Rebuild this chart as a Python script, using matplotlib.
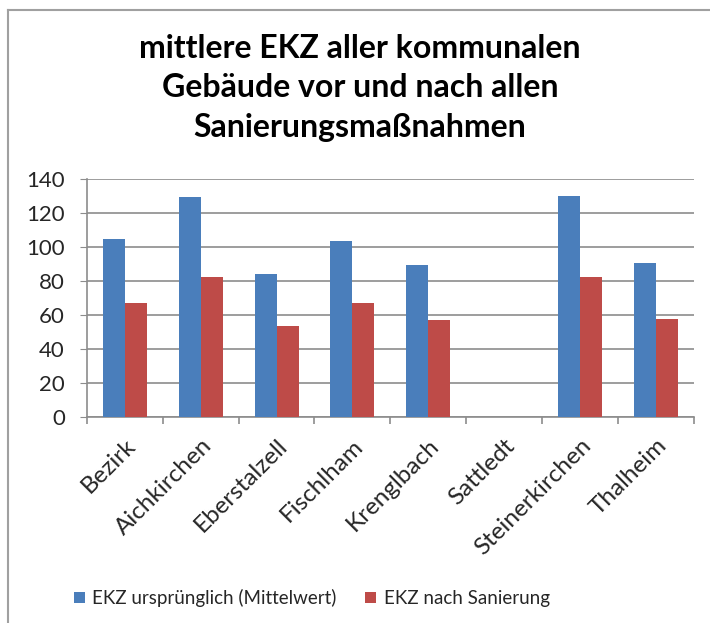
"""Mittlere EKZ kommunaler Gebäude vor und nach Sanierung."""
import matplotlib.pyplot as plt
import numpy as np
from matplotlib.lines import Line2D

plt.rcParams["font.family"] = ["Lato", "DejaVu Sans"]

gemeinden = ["Bezirk", "Aichkirchen", "Eberstalzell", "Fischlham", "Krenglbach",
             "Sattledt", "Steinerkirchen", "Thalheim"]
ekz_vorher = [104.5, 129.2, 83.9, 103.7, 89.4, 0, 130.0, 90.8]
ekz_nachher = [66.9, 82.5, 53.7, 67.0, 57.0, 0, 82.5, 57.8]
y_ticks = [0, 20, 40, 60, 80, 100, 120, 140]

BLUE = "#4a7ebb"
RED = "#be4b48"
GRID = "#8c8c8c"
TEXT = "#262626"

fig = plt.figure(figsize=(7.1, 6.23), dpi=100)
ax = fig.add_axes([0.1225, 0.3307, 0.8545, 0.382])

x = np.arange(len(gemeinden))
w = 0.29
ax.bar(x - w / 2, ekz_vorher, w, color=BLUE, label="EKZ ursprünglich (Mittelwert)", zorder=3)
ax.bar(x + w / 2, ekz_nachher, w, color=RED, label="EKZ nach Sanierung", zorder=3)

ax.set_xlim(-0.5, len(gemeinden) - 0.5)
ax.set_ylim(0, 140)
ax.set_yticks(y_ticks)
ax.yaxis.grid(True, color=GRID, linewidth=1.2, zorder=0)
ax.tick_params(axis="y", labelsize=16, length=5, color=GRID, labelcolor=TEXT, pad=11)

ax.set_xticks(x)
ax.set_xticklabels(gemeinden, rotation=45, ha="right", rotation_mode="anchor",
                   fontsize=17.5, color=TEXT)
ax.tick_params(axis="x", length=0, pad=13)
ax.set_xticks(np.arange(len(gemeinden) + 1) - 0.5, minor=True)
ax.tick_params(axis="x", which="minor", length=5, color=GRID, width=1.2)

for side in ["top", "right"]:
    ax.spines[side].set_visible(False)
for side in ["left", "bottom"]:
    ax.spines[side].set_color(GRID)
    ax.spines[side].set_linewidth(1.2)

fig.text(0.507, 0.859, "mittlere EKZ aller kommunalen\nGebäude vor und nach allen\nSanierungsmaßnahmen",
         ha="center", va="center", fontsize=23, fontweight="bold", linespacing=1.45)

fig.legend(loc="center", bbox_to_anchor=(0.439, 0.04), ncol=2, frameon=False,
           fontsize=13.5, handlelength=0.6, handleheight=0.6, columnspacing=1.5,
           handletextpad=0.4, labelcolor=TEXT)

# outer chart frame (left and top edges visible)
fig.add_artist(Line2D([0.0113, 0.0113], [0.0, 0.984], color="#a0a0a0", linewidth=1.5))
fig.add_artist(Line2D([0.0113, 1.0], [0.984, 0.984], color="#a0a0a0", linewidth=1.5))

fig.savefig("out.png", dpi=100)
